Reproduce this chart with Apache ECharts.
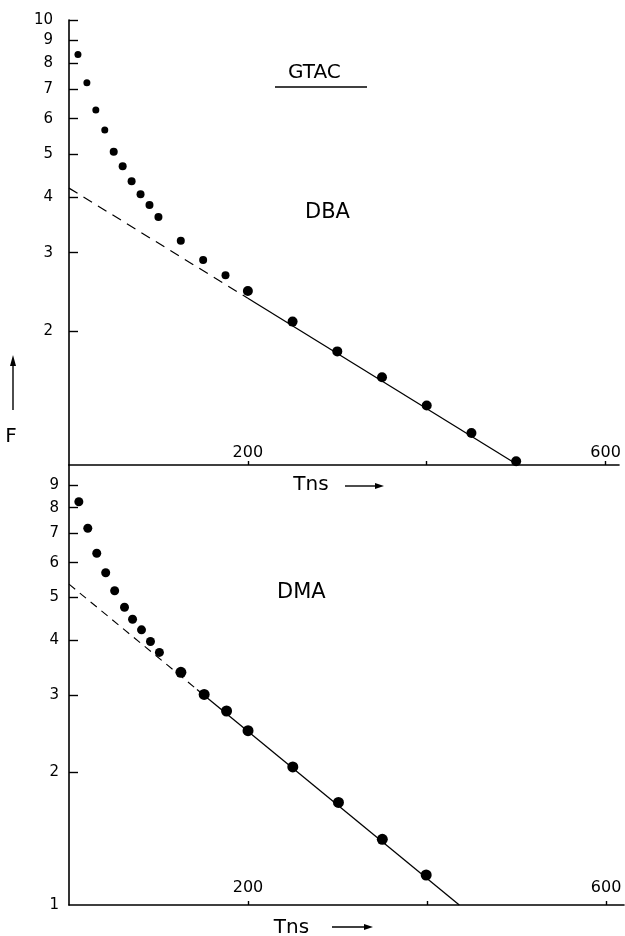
<!DOCTYPE html>
<html><head><meta charset="utf-8">
<script src="https://cdn.jsdelivr.net/npm/echarts@6/dist/echarts.min.js"></script>
<style>html,body{margin:0;padding:0;background:#fff}#c{width:625px;height:936px}</style>
</head><body><div id="c"></div>
<script>
const FONT = 'DejaVu Sans';
// Top panel: DBA in GTAC
const dbaTime = [10,20,30,40,50,60,70,80,90,100,125,150,175,200,250,300,350,400,450,500];
const dbaF = [8.36,7.23,6.28,5.66,5.06,4.69,4.34,4.06,3.84,3.61,3.19,2.89,2.67,2.46,2.10,1.80,1.575,1.36,1.18,1.02];
const dbaFitTime = [0,200,502];
const dbaFitF = [4.19,2.37,1.0];
// Bottom panel: DMA in GTAC
const dmaTime = [11,21,31,41,51,62,71,81,91,101,125,151,176,200,250,301,350,399];
const dmaF = [8.25,7.18,6.30,5.69,5.18,4.75,4.46,4.22,3.97,3.75,3.38,3.01,2.76,2.49,2.06,1.71,1.41,1.17];
const dmaFitTime = [0,143,436];
const dmaFitF = [5.36,3.09,1.0];
// Axis ticks / labels
const xTickValues = [200,400,600];
const xLabelValues = [200,600];
const topYLabels = [2,3,4,5,6,7,8,9,10];
const topYTicks = [2,3,4,5,6,7,8,9,10];
const bottomYLabels = [1,2,3,4,5,6,7,8,9];
const bottomYTicks = [2,3,4,5,6,7,8,9];

const zip = (a, b) => a.map((v, i) => [v, b[i]]);
const black = '#000';

function xAxisCfg(grid, max, labelMargin, namePad, nameGap) {
  return {
    gridIndex: grid, type: 'value', min: 0, max: max,
    axisLine: { show: true, onZero: false, lineStyle: { color: black, width: 1.6 } },
    axisTick: { show: true, inside: true, length: 4, customValues: xTickValues, lineStyle: { color: black, width: 1.4 } },
    axisLabel: { show: true, inside: true, margin: labelMargin, customValues: xLabelValues,
      color: black, fontSize: 16, fontFamily: FONT },
    splitLine: { show: false },
    name: 'Tns', nameLocation: 'middle', nameGap: nameGap,
    nameTextStyle: { color: black, fontSize: 20, fontFamily: FONT, padding: [0, namePad, 0, 0] }
  };
}
function yAxisCfg(grid, labels, ticks, labelMargin) {
  return {
    gridIndex: grid, type: 'log', logBase: 10, min: 1, max: 10,
    axisLine: { show: true, onZero: false, lineStyle: { color: black, width: 1.6 } },
    axisTick: { show: true, inside: true, length: 9, customValues: ticks, lineStyle: { color: black, width: 1.4 } },
    axisLabel: { show: true, margin: labelMargin, customValues: labels, color: black, fontSize: 15, fontFamily: FONT },
    minorTick: { show: false },
    splitLine: { show: false }
  };
}
function arrowGroup(x1, y1, x2, y2, pts) {
  return { type: 'group', children: [
    { type: 'line', shape: { x1: x1, y1: y1, x2: x2, y2: y2 }, style: { stroke: black, lineWidth: 1.4 } },
    { type: 'polygon', shape: { points: pts }, style: { fill: black } }
  ] };
}

const chart = echarts.init(document.getElementById('c'), null, { renderer: 'canvas' });
chart.setOption({
  backgroundColor: '#fff',
  animation: false,
  grid: [
    { left: 69, top: 20, width: 550, height: 445, containLabel: false, outerBoundsMode: 'none' },
    { left: 69, top: 465, width: 555, height: 440, containLabel: false, outerBoundsMode: 'none' }
  ],
  xAxis: [ xAxisCfg(0, 615, 4, 66, 10), xAxisCfg(1, 620, 9, 110, 13) ],
  yAxis: [ yAxisCfg(0, topYLabels, topYTicks, 16), yAxisCfg(1, bottomYLabels, bottomYTicks, 10) ],
  series: [
    { name: 'DBA', type: 'scatter', xAxisIndex: 0, yAxisIndex: 0, data: zip(dbaTime, dbaF),
      symbolSize: v => (v[0] < 45 ? 7 : (v[0] < 200 ? 8 : 10)), itemStyle: { color: black, opacity: 1 } },
    { name: 'DBA fit (extrapolated)', type: 'line', xAxisIndex: 0, yAxisIndex: 0,
      data: zip(dbaFitTime.slice(0, 2), dbaFitF.slice(0, 2)), showSymbol: false,
      lineStyle: { color: black, width: 1.2, type: [10, 7] } },
    { name: 'DBA fit', type: 'line', xAxisIndex: 0, yAxisIndex: 0,
      data: zip(dbaFitTime.slice(1), dbaFitF.slice(1)), showSymbol: false,
      lineStyle: { color: black, width: 1.3 } },
    { name: 'DMA', type: 'scatter', xAxisIndex: 1, yAxisIndex: 1, data: zip(dmaTime, dmaF),
      symbolSize: v => (v[0] < 120 ? 9 : 11), itemStyle: { color: black, opacity: 1 } },
    { name: 'DMA fit (extrapolated)', type: 'line', xAxisIndex: 1, yAxisIndex: 1,
      data: zip(dmaFitTime.slice(0, 2), dmaFitF.slice(0, 2)), showSymbol: false,
      lineStyle: { color: black, width: 1.1, type: [8, 6] } },
    { name: 'DMA fit', type: 'line', xAxisIndex: 1, yAxisIndex: 1,
      data: zip(dmaFitTime.slice(1), dmaFitF.slice(1)), showSymbol: false,
      lineStyle: { color: black, width: 1.3 } }
  ],
  graphic: [
    { type: 'text', x: 288, y: 73, style: { text: 'GTAC', fill: black, fontSize: 20, fontFamily: FONT, align: 'left', verticalAlign: 'middle' } },
    { type: 'line', shape: { x1: 275, y1: 87, x2: 367, y2: 87 }, style: { stroke: black, lineWidth: 1.6 } },
    { type: 'text', x: 305, y: 213, style: { text: 'DBA', fill: black, fontSize: 21, fontFamily: FONT, align: 'left', verticalAlign: 'middle' } },
    { type: 'text', x: 277, y: 593, style: { text: 'DMA', fill: black, fontSize: 21, fontFamily: FONT, align: 'left', verticalAlign: 'middle' } },
    { type: 'text', x: 11, y: 437, style: { text: 'F', fill: black, fontSize: 20, fontFamily: FONT, align: 'center', verticalAlign: 'middle' } },
    arrowGroup(13, 410, 13, 364, [[13, 355], [10, 366], [16, 366]]),
    arrowGroup(345, 486, 377, 486, [[384, 486], [375, 483], [375, 489]]),
    arrowGroup(332, 927, 366, 927, [[373, 927], [364, 924], [364, 930]])
  ]
});
</script>
</body></html>
